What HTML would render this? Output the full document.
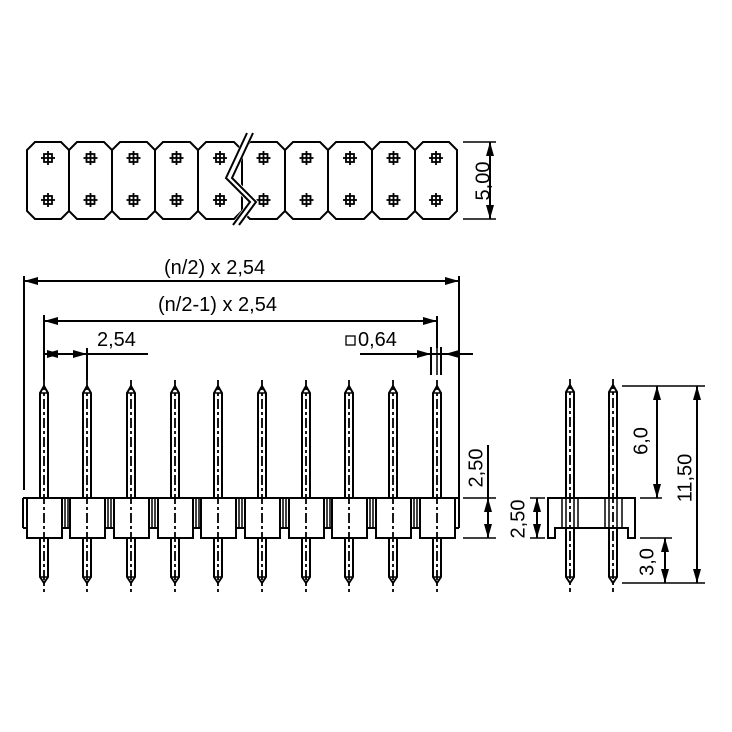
<!DOCTYPE html>
<html><head><meta charset="utf-8"><style>html,body{margin:0;padding:0;background:#fff}svg{display:block}text{font-family:"Liberation Sans",sans-serif;font-size:20px;fill:#000}</style></head>
<body>
<svg id="s" width="732" height="732" viewBox="0 0 732 732" xmlns="http://www.w3.org/2000/svg" stroke="#000" stroke-width="2" fill="none">
<g stroke="none">
<text x="164" y="274">(n/2) x 2,54</text>
<text x="158" y="311">(n/2-1) x 2,54</text>
<text x="97" y="346">2,54</text>
<text x="358" y="346">0,64</text>
<text transform="translate(484,181) rotate(-90)" text-anchor="middle" dominant-baseline="middle">5,00</text>
<text transform="translate(477,468) rotate(-90)" text-anchor="middle" dominant-baseline="middle">2,50</text>
<text transform="translate(519,519) rotate(-90)" text-anchor="middle" dominant-baseline="middle">2,50</text>
<text transform="translate(642,441) rotate(-90)" text-anchor="middle" dominant-baseline="middle">6,0</text>
<text transform="translate(686,478) rotate(-90)" text-anchor="middle" dominant-baseline="middle">11,50</text>
<text transform="translate(648,562) rotate(-90)" text-anchor="middle" dominant-baseline="middle">3,0</text>
</g>
<rect x="346" y="336" width="9" height="9" stroke-width="1.3"/>
<g id="g"></g>
</svg>
<script>
var g=document.getElementById('g'),o='';
function L(a,b,c,d,w,da){o+='<line x1="'+a+'" y1="'+b+'" x2="'+c+'" y2="'+d+'"'+(w?' stroke-width="'+w+'"':'')+(da?' stroke-dasharray="'+da+'"':'')+'/>';}
function A(x,y,dx,dy){var px=-dy,py=dx;o+='<polygon fill="#000" stroke="none" points="'+x+','+y+' '+(x-dx*14+px*4)+','+(y-dy*14+py*4)+' '+(x-dx*14-px*4)+','+(y-dy*14-py*4)+'"/>';}
var xs=[27,69,112,155,198,242,285,328,372,415,457],c=8,t=142,b=219;
for(var i=0;i<10;i++){var a=xs[i],e=xs[i+1];
o+='<polygon points="'+(a+c)+','+t+' '+(e-c)+','+t+' '+e+','+(t+c)+' '+e+','+(b-c)+' '+(e-c)+','+b+' '+(a+c)+','+b+' '+a+','+(b-c)+' '+a+','+(t+c)+'"/>';
var cx=(a+e)/2;[158,200].forEach(function(cy){o+='<rect x="'+(cx-4)+'" y="'+(cy-4)+'" width="8" height="8" stroke-width="1.8"/>';L(cx-7,cy,cx+7,cy,1.8);L(cx,cy-7,cx,cy+7,1.8);});}
o+='<polyline points="250,133 229,178 253,202 236,225" stroke="#fff" stroke-width="8"/>';
o+='<polyline points="247,133 226,178 250,202 233,225"/><polyline points="253,133 232,178 256,202 239,225"/>';
L(463,142,496,142,1.5);L(463,219,496,219,1.5);L(490,142,490,219);A(490,142,0,-1);A(490,219,0,1);
var px=[44,87,131,175,218,262,306,349,393,437];
L(23,498,459,498);L(23,498,23,528);L(459,498,459,528);L(23,528,27,528);
for(var i=0;i<10;i++){var x=px[i];
o+='<rect x="'+(x-17)+'" y="498" width="35" height="40" fill="#fff"/>';
if(i<9){L(x+18,528,px[i+1]-17,528);L(x+21,498,x+21,528,1.5);L(x+24,498,x+24,528,1.5);}
pin(x,386,498,538,583,0);}
L(455,528,459,528);
function pin(x,tp,h1,h2,bt,thr){o+='<polyline points="'+(x-4)+','+h1+' '+(x-4)+','+(tp+7)+' '+x+','+tp+' '+(x+4)+','+(tp+7)+' '+(x+4)+','+h1+'"/>';L(x-4,tp+7,x+4,tp+7,1.5);
o+='<polyline points="'+(x-4)+','+h2+' '+(x-4)+','+(bt-6)+' '+x+','+bt+' '+(x+4)+','+(bt-6)+' '+(x+4)+','+h2+'"/>';L(x-4,bt-6,x+4,bt-6,1.5);
if(thr){L(x-4,h1,x-4,h2,1.5);L(x+4,h1,x+4,h2,1.5);}
L(x,tp-6,x,bt+9,1.8,'10,3,3,3');}
L(24,276,24,490);L(459,276,459,500);L(24,281,459,281);A(24,281,-1,0);A(459,281,1,0);
L(44,315,44,380);L(437,316,437,348);L(44,321,437,321);A(44,321,-1,0);A(437,321,1,0);
L(87,348,87,380);L(44,354,148,354);A(44,354,-1,0);A(87,354,1,0);A(61,354,1,0);
L(360,354,473,354);A(431,354,1,0);A(445,354,-1,0);L(431,347,431,375);L(441,347,441,375);L(437,347,437,375,1.5);
L(463,498,496,498,1.5);L(463,538,496,538,1.5);L(488,445,488,538);A(488,498,0,-1);A(488,538,0,1);
o+='<polygon points="548,498 635,498 635,538 628,538 628,528 555,528 555,538 548,538" fill="#fff"/>';
L(562,498,562,528,1.5);L(578,498,578,528,1.5);L(605,498,605,528,1.5);L(622,498,622,528,1.5);
pin(570,385,498,528,583,1);pin(613,385,498,528,583,1);
L(622,386,705,386,1.5);L(622,583,705,583,1.5);L(640,498,662,498,1.5);L(640,538,672,538,1.5);
L(697,386,697,583);A(697,386,0,-1);A(697,583,0,1);
L(657,386,657,498);A(657,386,0,-1);A(657,498,0,1);
L(665,538,665,583);A(665,538,0,-1);A(665,583,0,1);
L(530,498,545,498,1.5);L(530,538,545,538,1.5);L(537,498,537,538);A(537,498,0,-1);A(537,538,0,1);
g.innerHTML=o;
</script>
</body></html>
